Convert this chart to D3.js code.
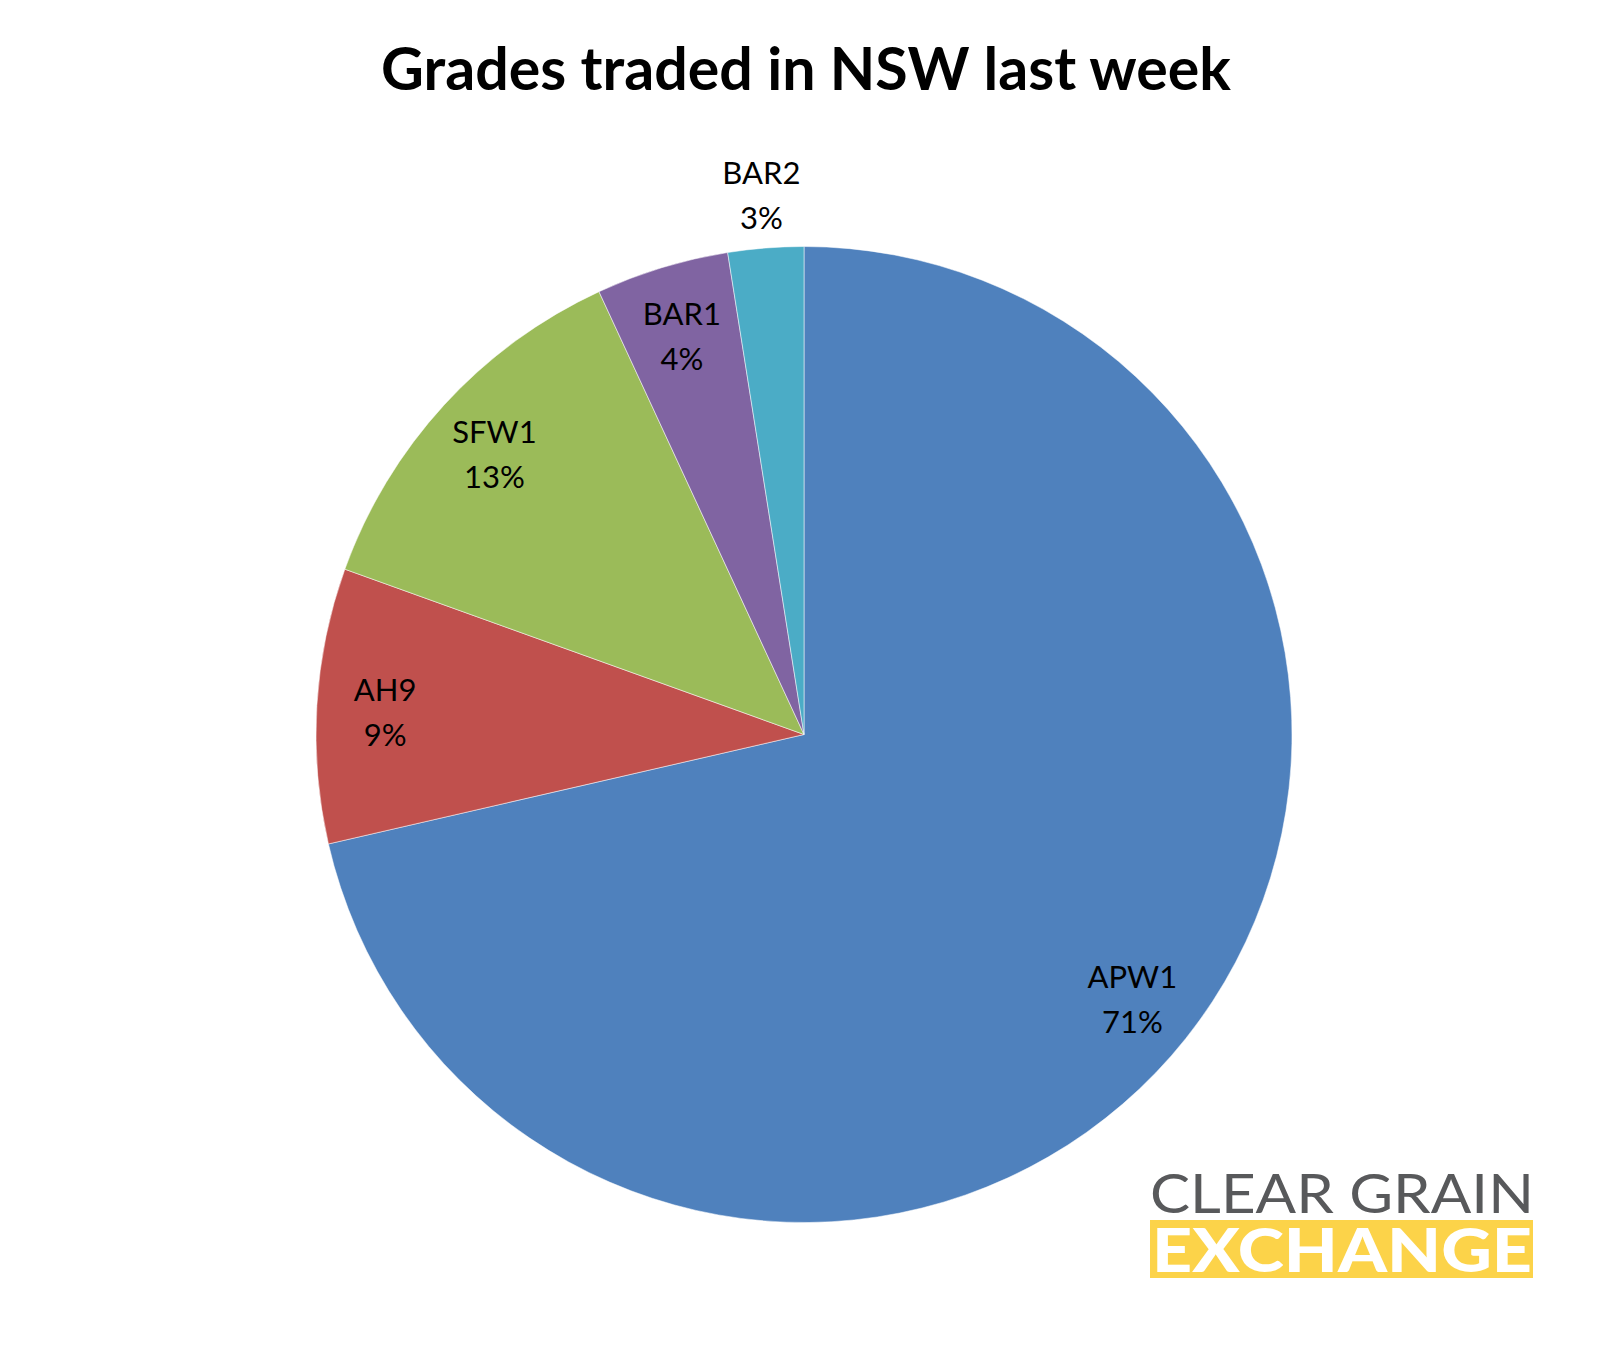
<!DOCTYPE html>
<html>
<head>
<meta charset="utf-8">
<script src="https://cdn.jsdelivr.net/npm/d3@7"></script>
<style>
  html, body { margin: 0; padding: 0; background: #ffffff; }
  svg { display: block; }
</style>
</head>
<body>
<svg id="chart" width="1608" height="1351"></svg>
<script>
// ---- Data ----
const title = "Grades traded in NSW last week";
const grades = ["APW1", "AH9", "SFW1", "BAR1", "BAR2"];
const shares = [71.4, 9.1, 12.6, 4.4, 2.5];
const colors = ["#4F81BD", "#C0504D", "#9BBB59", "#8064A2", "#4BACC6"];
const logoTop = "CLEAR GRAIN";
const logoBottom = "EXCHANGE";

const data = grades.map((g, i) => ({ grade: g, share: shares[i], color: colors[i] }));

const svg = d3.select("#chart");
const W = 1608, H = 1351;
svg.append("rect").attr("width", W).attr("height", H).attr("fill", "#ffffff");

// ---- Title ----
const titleText = svg.append("text")
  .attr("x", 806).attr("y", 90)
  .attr("text-anchor", "middle")
  .style("font-family", "Lato, 'Open Sans', sans-serif")
  .style("font-weight", 700)
  .style("font-size", "52px")
  .attr("fill", "#000")
  .text(title);
{
  const w = titleText.node().getComputedTextLength();
  const fs = 52 * 850 / w;
  titleText.style("font-size", fs + "px");
}

// ---- Pie ----
const cx = 804, cy = 734.5, R = 488;
const g = svg.append("g").attr("transform", `translate(${cx},${cy})`);

const pie = d3.pie().sort(null).value(d => d.share);
const arcs = pie(data);
const arc = d3.arc().innerRadius(0).outerRadius(R);

g.selectAll("path.slice").data(arcs).join("path")
  .attr("class", "slice")
  .attr("d", arc)
  .attr("fill", d => d.data.color)
  .attr("stroke", "#ffffff")
  .attr("stroke-opacity", 0.5)
  .attr("stroke-width", 1);

// labels: inside for normal slices, outside for very small
const inArc = d3.arc().innerRadius(R * 0.86).outerRadius(R * 0.86);
const outArc = d3.arc().innerRadius(R * 1.115).outerRadius(R * 1.115);

const lbl = g.selectAll("g.lbl").data(arcs).join("g")
  .attr("class", "lbl")
  .attr("transform", d => {
    const p = (d.data.share < 3 ? outArc : inArc).centroid(d);
    return `translate(${p[0]},${p[1]})`;
  });

const fontLbl = "Lato, 'Open Sans', sans-serif";
lbl.append("text")
  .attr("text-anchor", "middle")
  .attr("y", -8)
  .style("font-family", fontLbl)
  .style("font-size", "31px")
  .attr("fill", "#000")
  .text(d => d.data.grade);
lbl.append("text")
  .attr("text-anchor", "middle")
  .attr("y", 37)
  .style("font-family", fontLbl)
  .style("font-size", "31px")
  .attr("fill", "#000")
  .text(d => Math.round(d.data.share) + "%");

// ---- Logo ----
const logo = svg.append("g");
logo.append("rect")
  .attr("x", 1150).attr("y", 1220)
  .attr("width", 383).attr("height", 58)
  .attr("fill", "#FCD349");
const logoText = logo.append("text")
  .style("font-family", "Lato, sans-serif");
logoText.append("tspan")
  .attr("x", 1150).attr("y", 1213)
  .attr("textLength", 384)
  .attr("lengthAdjust", "spacingAndGlyphs")
  .style("font-weight", 400)
  .style("font-size", "54px")
  .attr("fill", "#58595B")
  .text(logoTop);
logoText.append("tspan")
  .attr("x", 1152).attr("y", 1272)
  .attr("textLength", 380)
  .attr("lengthAdjust", "spacingAndGlyphs")
  .style("font-weight", 900)
  .style("font-size", "61px")
  .attr("fill", "#ffffff")
  .text(logoBottom);
</script>
</body>
</html>
